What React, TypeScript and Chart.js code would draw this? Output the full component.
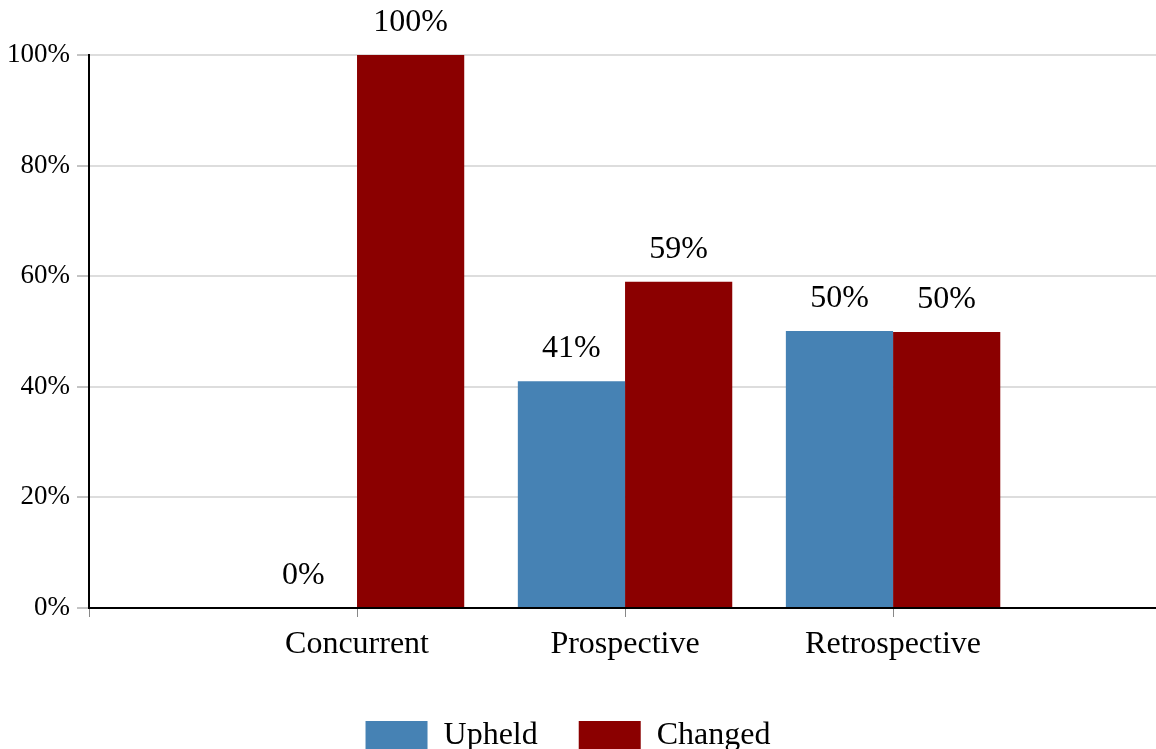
import React, { useEffect, useRef } from 'react';
import { Chart, registerables } from 'chart.js';

Chart.register(...registerables);

const categories = ['Concurrent', 'Prospective', 'Retrospective'];
const categoryPositions = [1, 2, 3];
const upheld = [0, 41, 50.1];
const changed = [100, 59, 49.9];
const seriesNames = ['Upheld', 'Changed'];
const seriesColors = ['#4682B4', '#8B0000'];
const yTickValues = [0, 20, 40, 60, 80, 100];

const FONT = "'Liberation Serif', 'Times New Roman', serif";

const valueLabels = {
  id: 'valueLabels',
  afterDatasetsDraw(chart: any) {
    const ctx = chart.ctx;
    ctx.save();
    ctx.font = `32px ${FONT}`;
    ctx.fillStyle = '#000';
    ctx.textAlign = 'center';
    ctx.textBaseline = 'alphabetic';
    chart.data.datasets.forEach((ds: any, di: number) => {
      const meta = chart.getDatasetMeta(di);
      meta.data.forEach((el: any, i: number) => {
        const v = ds.data[i].y;
        ctx.fillText(`${Math.round(v)}%`, el.x, el.y - 24);
      });
    });
    ctx.restore();
  },
};

const legendShift = {
  id: 'legendShift',
  afterLayout(chart: any) {
    if (chart.legend) {
      chart.legend.left -= 10;
      chart.legend.right -= 10;
    }
  },
};

export default function App() {
  const ref = useRef<HTMLCanvasElement | null>(null);

  useEffect(() => {
    document.body.style.margin = '0';
    document.body.style.overflow = 'hidden';
    document.documentElement.style.overflow = 'hidden';
    if (!ref.current) return;
    const toPoints = (vals: number[]) => vals.map((y, i) => ({ x: categoryPositions[i], y }));
    const chart = new Chart(ref.current, {
      type: 'bar',
      data: {
        datasets: [
          {
            label: seriesNames[0],
            data: toPoints(upheld),
            backgroundColor: seriesColors[0],
            borderWidth: 0,
            categoryPercentage: 0.8,
            barPercentage: 1.0,
          },
          {
            label: seriesNames[1],
            data: toPoints(changed),
            backgroundColor: seriesColors[1],
            borderWidth: 0,
            categoryPercentage: 0.8,
            barPercentage: 1.0,
          },
        ],
      },
      options: {
        animation: false,
        responsive: false,
        layout: { padding: { top: 55, left: 0, right: 0, bottom: 0 } },
        plugins: {
          tooltip: { enabled: false },
          legend: {
            position: 'bottom',
            labels: {
              boxWidth: 62,
              boxHeight: 30,
              padding: 41,
              color: '#000',
              font: { family: FONT, size: 32 },
            },
          },
        },
        scales: {
          x: {
            type: 'linear',
            min: 0,
            max: 3.981,
            offset: false,
            afterFit: (s: any) => { s.height = 71; },
            border: { display: true, color: '#000', width: 2 },
            grid: {
              offset: false,
              drawOnChartArea: false,
              drawTicks: true,
              tickLength: 9,
              tickColor: '#888',
              tickWidth: 1,
            },
            ticks: {
              stepSize: 1,
              includeBounds: false,
              autoSkip: false,
              maxRotation: 0,
              padding: 8,
              color: '#000',
              font: { family: FONT, size: 32 },
              callback: (v: any) => {
                const idx = categoryPositions.indexOf(Number(v));
                return idx >= 0 ? categories[idx] : '';
              },
            },
          },
          y: {
            min: yTickValues[0],
            max: yTickValues[yTickValues.length - 1],
            afterFit: (s: any) => { s.width = 89; },
            border: { display: true, color: '#000', width: 2 },
            grid: {
              color: '#dddddd',
              lineWidth: 2,
              tickLength: 12,
              tickColor: '#888',
              tickWidth: 1,
            },
            ticks: {
              stepSize: 20,
              padding: 7,
              color: '#000',
              font: { family: FONT, size: 27 },
              callback: (v: any) => `${v}%`,
            },
          },
        },
      },
      plugins: [valueLabels, legendShift],
    });
    return () => chart.destroy();
  }, []);

  return (
    <div style={{ width: 1156, height: 762, overflow: 'hidden' }}>
      <canvas ref={ref} width={1156} height={762} style={{ display: 'block' }} />
    </div>
  );
}
